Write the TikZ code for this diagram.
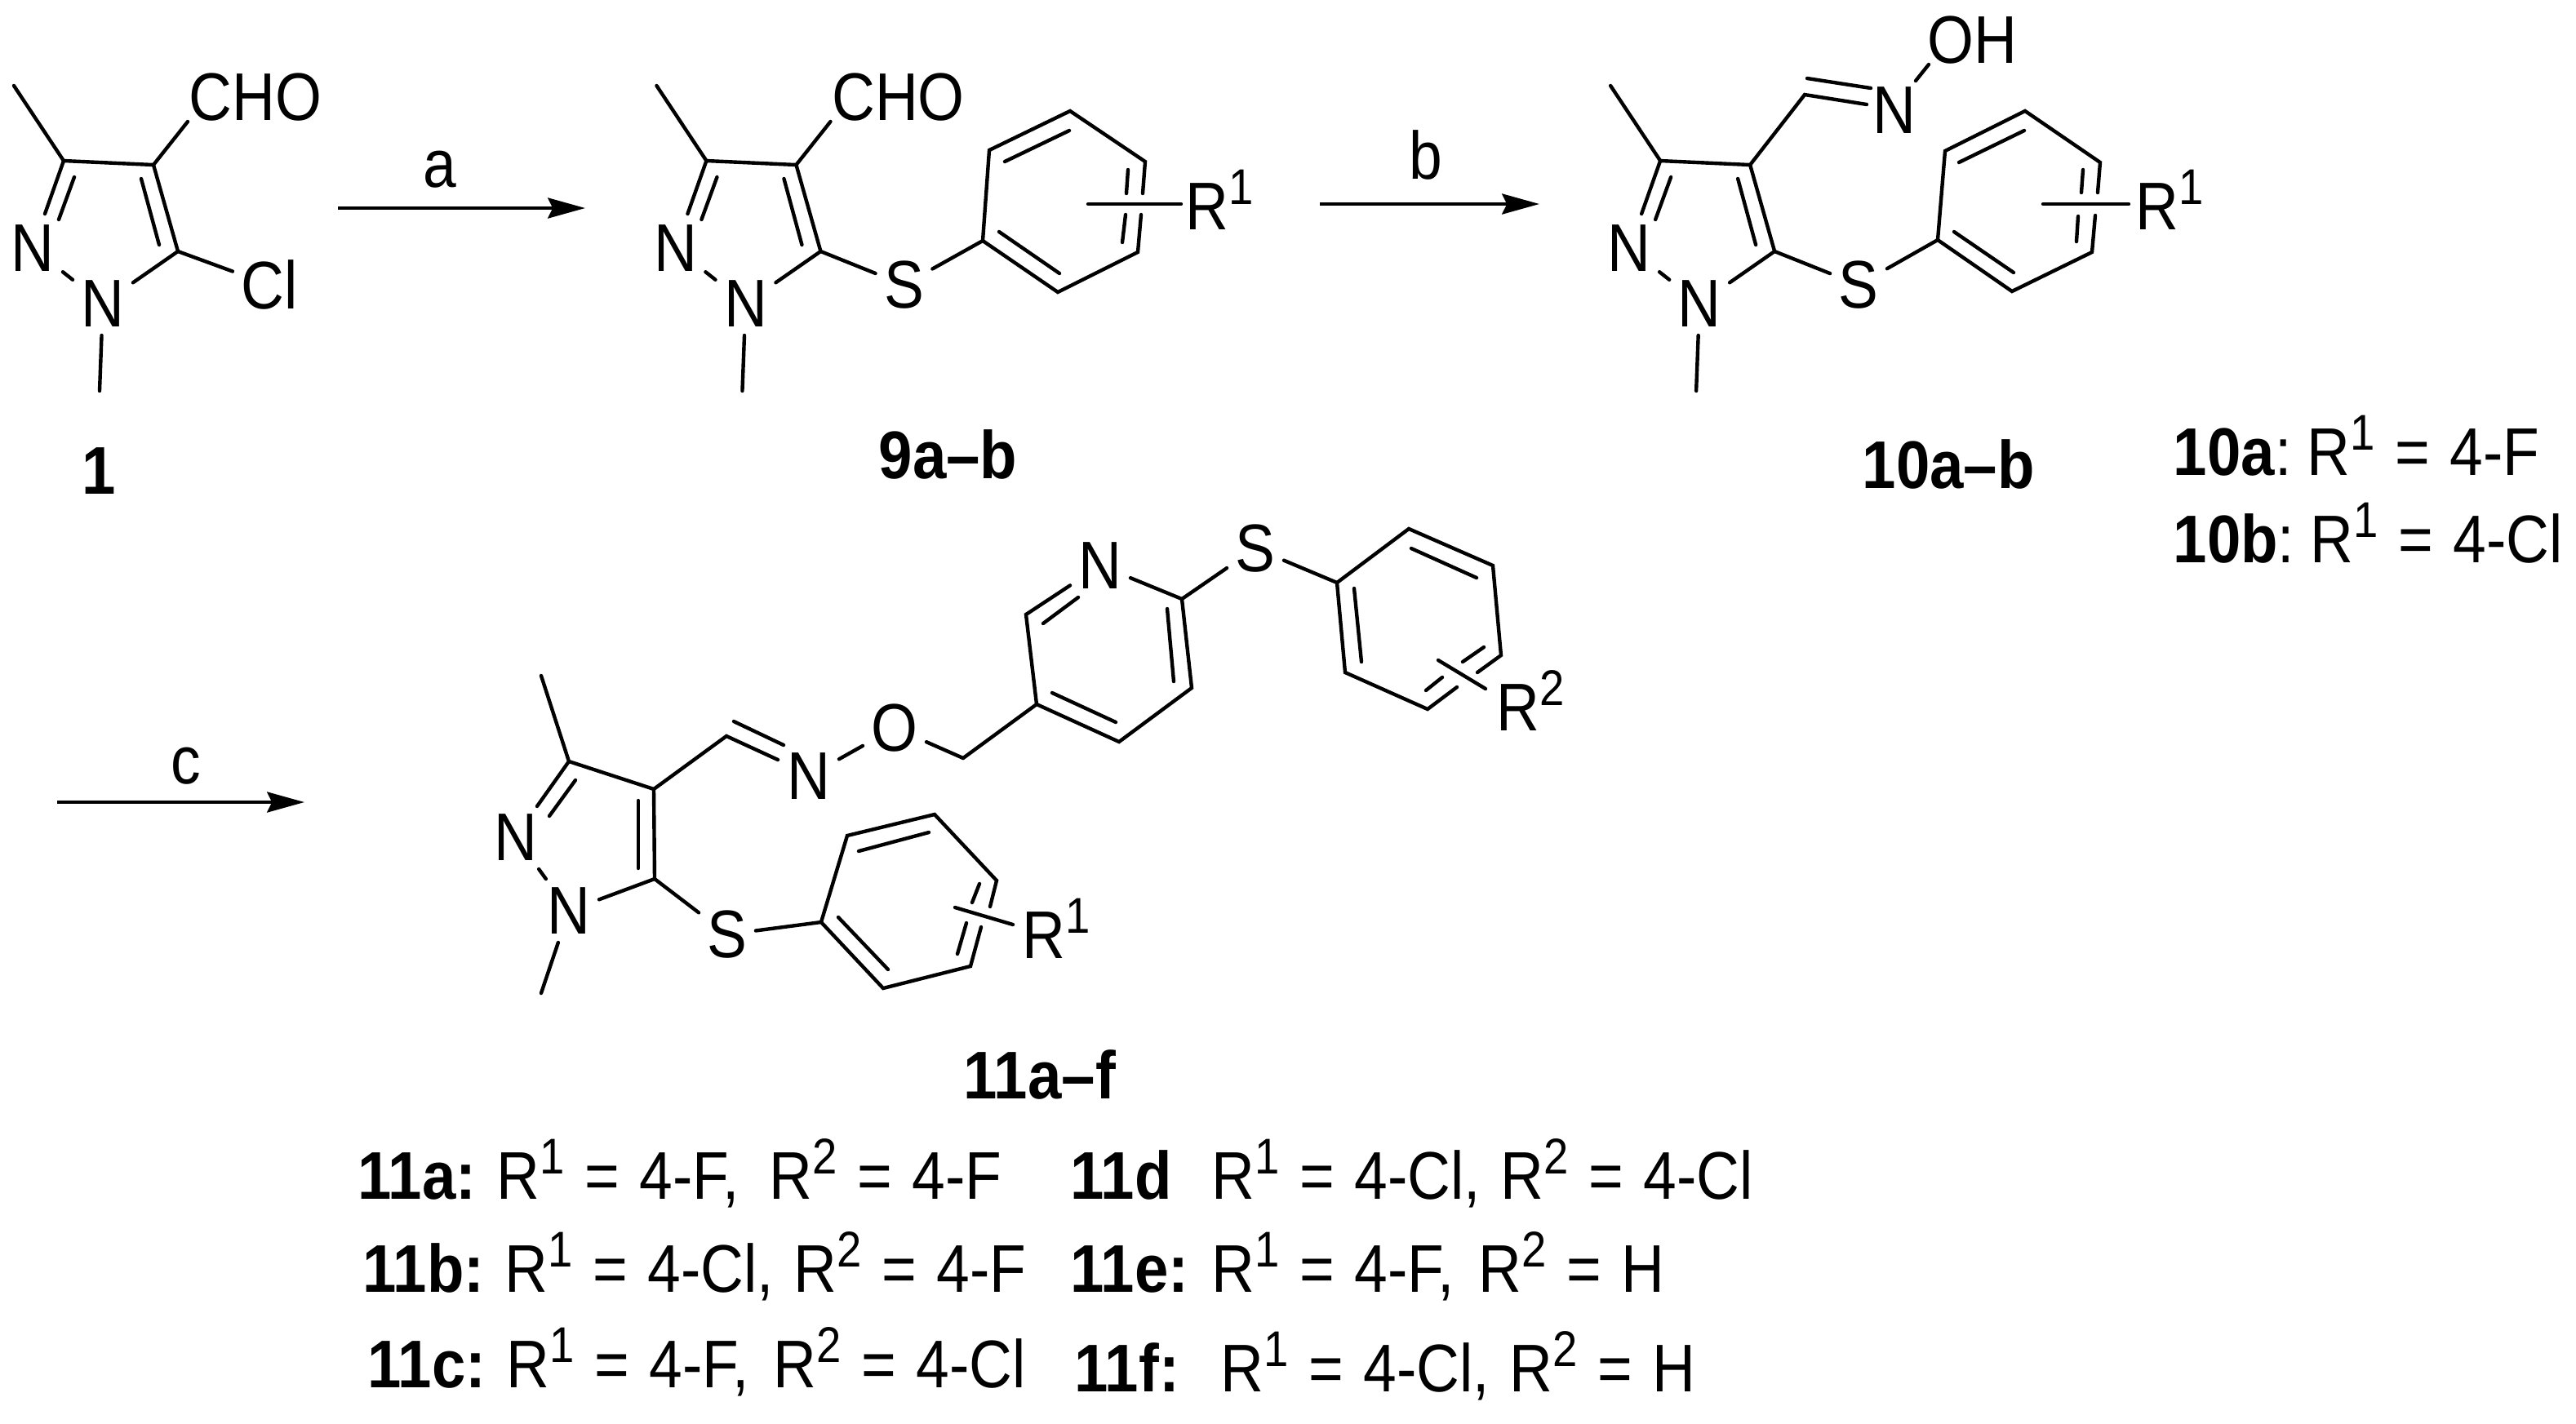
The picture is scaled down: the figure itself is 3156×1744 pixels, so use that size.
\documentclass[tikz,border=0pt]{standalone}
\usepackage{fontspec}
\usetikzlibrary{arrows.meta}
\setmainfont{Liberation Sans}[FakeStretch=0.885, BoldFeatures={FakeStretch=0.9}]

\newcommand{\Rn}[1]{R\raisebox{8.8pt}{\fontsize{17.5}{17.5}\selectfont #1}}
% ring of the pyrazole, same in 1, 9 and 10
\newcommand{\pyrazole}{
\coordinate (c3) at (78,197);
\coordinate (c4) at (188,202);
\coordinate (c5) at (218,308);
\node[atom] (n2) at (40,304) {N};
\node[atom] (n1) at (126,372) {N};
\draw[bond] (17,105) -- (c3) -- (c4) -- (c5) -- (n1) -- (n2);
\draw[bond] (c3) -- (55,262);
\draw[bond] (91,217) -- (72,269);
\draw[bond] (173,219) -- (195,300);
\draw[bond] (n1) -- (122,479);
}

\begin{document}
\begin{tikzpicture}[
    x = 0.01cm, y = -0.01cm,
    bond/.style = {line width = 1.25pt, line cap = round},
    rxn/.style = {line width = 1.25pt, -{Stealth[length = 13pt, width = 7.1pt, inset = 1.7pt]}},
    atom/.style = {inner sep = 0pt, outer sep = 3pt, font = \fontsize{23.5}{26}\selectfont},
    txt/.style = {inner sep = 0pt, anchor = base west, font = \fontsize{23.5}{26}\selectfont\spaceskip 7pt\relax},
    cmpd/.style = {txt, font = \fontsize{23.5}{26}\selectfont\bfseries}]

\useasboundingbox (0,0) rectangle (3156,1744);

% Compound 1
\pyrazole
\node[atom] (cho1) at (313,119) {CHO};
\node[atom] (cl) at (330,349) {Cl};
\draw[bond] (c4) -- (230,149);
\draw[bond] (c5) -- (cl);
\node[txt] (lab1) at (100,605) {\bfseries 1};

% Compound 9
\begin{scope}[xshift = 7.87cm]
\pyrazole
\node[atom] (cho9) at (313,119) {CHO};
\draw[bond] (c4) -- (230,149);
\node[atom] (s9) at (320,349) {S};
\draw[bond] (c5) -- (s9);
\end{scope}
\coordinate (p1) at (1204,295);
\coordinate (p2) at (1296,358);
\coordinate (p3) at (1394,309);
\coordinate (p4) at (1403,198);
\coordinate (p5) at (1311,136);
\coordinate (p6) at (1212,184);
\draw[bond] (s9) -- (p1) -- (p2) -- (p3) -- (1398,263);
\draw[bond] (1400,237) -- (p4) -- (p5) -- (p6) -- (p1);
\draw[bond] (1224,284) -- (1298,335);
\draw[bond] (1231,198) -- (1310,160);
\draw[bond] (1375,297) -- (1379,263);
\draw[bond] (1380,237) -- (1382,208);
\node[txt] (r9) at (1452,281) {\Rn{1}};
\draw[bond] (1333,250) -- (1447,250);
\node[cmpd] (lab9) at (1076,586) {9a\textendash b};

% Compound 10
\begin{scope}[xshift = 19.55cm]
\pyrazole
\end{scope}
\coordinate (ch) at (2211,116);
\node[atom] (n10) at (2321,135) {N};
\node[atom] (oh) at (2416,49) {OH};
\node[atom] (s10) at (2277,349) {S};
\draw[bond] (c4) -- (ch) -- (2287,128);
\draw[bond] (2214,96) -- (2292,108);
\draw[bond] (2347,99) -- (2363,79);
\draw[bond] (c5) -- (s10);
\coordinate (q1) at (2374,294);
\coordinate (q2) at (2465,357);
\coordinate (q3) at (2563,309);
\coordinate (q4) at (2573,199);
\coordinate (q5) at (2481,136);
\coordinate (q6) at (2383,185);
\draw[bond] (s10) -- (q1) -- (q2) -- (q3) -- (2567,264);
\draw[bond] (2570,236) -- (q4) -- (q5) -- (q6) -- (q1);
\draw[bond] (2394,284) -- (2467,334);
\draw[bond] (2400,199) -- (2480,160);
\draw[bond] (2544,296) -- (2546,265);
\draw[bond] (2550,236) -- (2552,208);
\node[txt] (r10) at (2616,281) {\Rn{1}};
\draw[bond] (2503,250) -- (2608,250);
\node[cmpd] (lab10) at (2281,598) {10a\textendash b};
\node[txt] (a10) at (2662,582) {\textbf{10a}:\hspace{5.5pt}\Rn{1} = 4-F};
\node[txt] (b10) at (2662,689) {\textbf{10b}:\hspace{5.5pt}\Rn{1} = 4-Cl};

% Compound 11
\coordinate (d3) at (697,933);
\coordinate (d4) at (801,967);
\coordinate (d5) at (802,1077);
\coordinate (dh) at (890,902);
\coordinate (ch2) at (1180,929);
\node[atom] (d2) at (632,1026) {N};
\node[atom] (d1) at (697,1116) {N};
\node[atom] (n11) at (991,951) {N};
\node[atom] (o11) at (1096,892) {O};
\node[atom] (s11) at (891,1145) {S};
\draw[bond] (663,828) -- (d3) -- (d4) -- (d5) -- (d1) -- (d2);
\draw[bond] (d3) -- (658,988);
\draw[bond] (705,956) -- (673,1000);
\draw[bond] (782,981) -- (782,1064);
\draw[bond] (d1) -- (663,1217);
\draw[bond] (d4) -- (dh) -- (953,931);
\draw[bond] (899,884) -- (960,913);
\draw[bond] (n11) -- (o11) -- (ch2);
\draw[bond] (d5) -- (s11);
% lower phenyl
\coordinate (e1) at (1006,1130);
\coordinate (e2) at (1082,1211);
\coordinate (e3) at (1189,1184);
\coordinate (e4) at (1221,1079);
\coordinate (e5) at (1145,998);
\coordinate (e6) at (1038,1024);
\draw[bond] (s11) -- (e1) -- (e2) -- (e3) -- (1202,1136);
\draw[bond] (1213,1111) -- (e4) -- (e5) -- (e6) -- (e1);
\draw[bond] (1027,1124) -- (1088,1188);
\draw[bond] (1052,1043) -- (1138,1020);
\draw[bond] (1200,1083) -- (1191,1106);
\draw[bond] (1184,1131) -- (1173,1169);
\draw[bond] (1170,1112) -- (1241,1133);
\node[txt] (r11) at (1252,1174) {\Rn{1}};
% pyridine
\coordinate (f1) at (1270,863);
\coordinate (f2) at (1371,909);
\coordinate (f3) at (1460,843);
\coordinate (f4) at (1448,734);
\coordinate (f6) at (1257,753);
\node[atom] (f5) at (1348,693) {N};
\node[atom] (s12) at (1538,672) {S};
\draw[bond] (ch2) -- (f1) -- (f2) -- (f3) -- (f4) -- (f5) -- (f6) -- (f1);
\draw[bond] (1321,732) -- (1278,764);
\draw[bond] (1430,746) -- (1438,835);
\draw[bond] (1289,849) -- (1367,885);
\draw[bond] (f4) -- (s12);
% upper phenyl
\coordinate (g1) at (1638,714);
\coordinate (g2) at (1648,824);
\coordinate (g3) at (1749,869);
\coordinate (g4) at (1839,803);
\coordinate (g5) at (1829,693);
\coordinate (g6) at (1726,648);
\draw[bond] (s12) -- (g1) -- (g2) -- (g3) -- (1785,842);
\draw[bond] (1810,824) -- (g4) -- (g5) -- (g6) -- (g1);
\draw[bond] (1659,721) -- (1668,811);
\draw[bond] (1729,672) -- (1809,708);
\draw[bond] (1818,793) -- (1792,811);
\draw[bond] (1767,830) -- (1747,846);
\draw[bond] (1762,809) -- (1820,844);
\node[txt] (r12) at (1833,895) {\Rn{2}};
\node[cmpd] (lab11) at (1180,1346) {11a\textendash f};

% Arrows
\coordinate (a1) at (414,255);
\coordinate (a2) at (717,255);
\coordinate (b1) at (1617,250);
\coordinate (b2) at (1886,250);
\coordinate (c1) at (70,983);
\coordinate (c2) at (373,983);
\draw[rxn] (a1) -- (a2);
\draw[rxn] (b1) -- (b2);
\draw[rxn] (c1) -- (c2);
\node[txt, anchor = base] (la) at (539,229) {a};
\node[txt, anchor = base] (lb) at (1747,219) {b};
\node[txt, anchor = base] (lc) at (228,960) {c};

% Table of substituents
\node[cmpd] (k11a) at (438,1469) {11a:};
\node[txt] (t11a) at (608,1469) {\Rn{1} = 4-F,\hspace{10.6pt}\Rn{2} = 4-F};
\node[cmpd] (k11b) at (444,1583) {11b:};
\node[txt] (t11b) at (618,1583) {\Rn{1} = 4-Cl, \Rn{2} = 4-F};
\node[cmpd] (k11c) at (450,1700) {11c:};
\node[txt] (t11c) at (620,1700) {\Rn{1} = 4-F,\hspace{8.5pt}\Rn{2} = 4-Cl};
\node[cmpd] (k11d) at (1311,1469) {11d};
\node[txt] (t11d) at (1484,1469) {\Rn{1} = 4-Cl, \Rn{2} = 4-Cl};
\node[cmpd] (k11e) at (1311,1583) {11e:};
\node[txt] (t11e) at (1484,1583) {\Rn{1} = 4-F,\hspace{8.5pt}\Rn{2} = H};
\node[cmpd] (k11f) at (1316,1705) {11f:};
\node[txt] (t11f) at (1495,1705) {\Rn{1} = 4-Cl, \Rn{2} = H};

\end{tikzpicture}
\end{document}
